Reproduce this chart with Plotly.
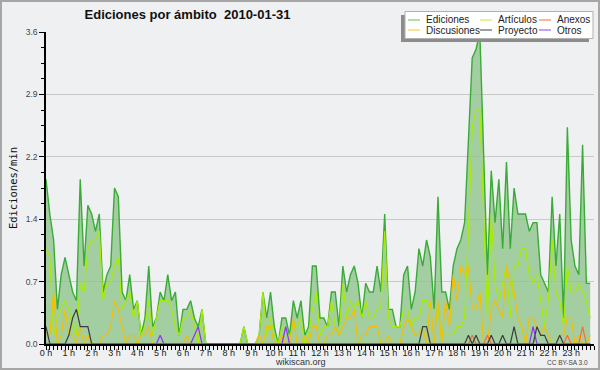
import plotly.graph_objects as go

# ---------------- data (10-minute bins, edits per minute) ----------------
BIN_MINUTES = 10
HOURS = list(range(24))
HOUR_LABELS = [f"{h} h" for h in HOURS]
TITLE = "Ediciones por ámbito\u00a0\u00a02010-01-31"

ediciones = [
    1.9, 1.5, 1.2, 0.4, 0.8, 1.0, 0.8, 0.6, 0.5, 1.9, 0.9, 1.6,
    1.5, 1.3, 1.5, 0.6, 0.8, 0.9, 1.8, 1.7, 0.6, 0.5, 0.8, 0.4,
    0.5, 0.1, 0.3, 0.9, 0.2, 0.3, 0.6, 0.5, 0.8, 0.5, 0.6, 0.1,
    0.4, 0.4, 0.5, 0.3, 0.2, 0.4, 0.0, 0.0, 0.0, 0.0, 0.0, 0.0,
    0.0, 0.0, 0.0, 0.0, 0.2, 0.0, 0.0, 0.0, 0.1, 0.6, 0.3, 0.6,
    0.2, 0.0, 0.3, 0.3, 0.1, 0.5, 0.3, 0.5, 0.1, 0.2, 0.9, 0.9,
    0.3, 0.3, 0.2, 0.6, 0.6, 0.2, 0.9, 0.6, 0.8, 0.9, 0.7, 0.3,
    0.7, 0.6, 0.6, 0.9, 0.6, 1.5, 0.4, 0.4, 0.2, 0.2, 0.8, 0.9,
    0.4, 0.6, 1.1, 0.9, 1.2, 1.0, 0.4, 1.7, 0.6, 0.6, 0.4, 0.9,
    1.1, 1.2, 1.4, 2.3, 3.3, 3.4, 3.6, 2.2, 0.8, 2.0, 1.4, 1.9,
    1.1, 2.1, 1.1, 1.8, 1.5, 1.5, 1.5, 1.3, 1.4, 1.4, 0.8, 0.7,
    0.6, 1.7, 0.9, 1.5, 0.3, 2.5, 1.2, 0.9, 0.8, 2.3, 0.7, 0.7,
]

articulos = [
    1.1, 1.0, 0.1, 0.3, 0.4, 0.5, 0.4, 0.2, 0.1, 0.7, 0.6, 1.1,
    1.2, 1.2, 1.3, 0.5, 0.7, 0.7, 0.9, 1.0, 0.4, 0.5, 0.6, 0.3,
    0.5, 0.1, 0.2, 0.5, 0.1, 0.3, 0.5, 0.5, 0.5, 0.4, 0.2, 0.1,
    0.3, 0.3, 0.4, 0.2, 0.0, 0.4, 0.0, 0.0, 0.0, 0.0, 0.0, 0.0,
    0.0, 0.0, 0.0, 0.0, 0.2, 0.0, 0.0, 0.0, 0.1, 0.6, 0.1, 0.3,
    0.1, 0.0, 0.2, 0.1, 0.1, 0.2, 0.2, 0.3, 0.0, 0.1, 0.4, 0.6,
    0.1, 0.2, 0.2, 0.5, 0.2, 0.1, 0.7, 0.3, 0.5, 0.4, 0.5, 0.3,
    0.5, 0.3, 0.3, 0.4, 0.4, 1.3, 0.3, 0.2, 0.2, 0.2, 0.4, 0.4,
    0.2, 0.3, 0.3, 0.5, 0.5, 0.4, 0.4, 0.4, 0.1, 0.1, 0.1, 0.1,
    0.2, 0.2, 0.3, 1.3, 2.5, 2.7, 2.7, 1.5, 0.3, 1.5, 0.7, 0.5,
    0.7, 0.9, 0.3, 0.9, 0.9, 1.1, 1.1, 0.8, 0.7, 0.8, 0.5, 0.2,
    0.5, 1.2, 0.6, 0.5, 0.2, 0.9, 0.6, 0.6, 0.7, 0.6, 0.5, 0.3,
]

discusiones = [
    0.1, 0.1, 0.6, 0.0, 0.1, 0.4, 0.1, 0.1, 0.0, 0.2, 0.0, 0.1,
    0.0, 0.0, 0.0, 0.1, 0.1, 0.2, 0.5, 0.4, 0.2, 0.0, 0.1, 0.1,
    0.0, 0.1, 0.1, 0.2, 0.0, 0.0, 0.0, 0.0, 0.0, 0.0, 0.0, 0.0,
    0.0, 0.1, 0.0, 0.0, 0.0, 0.0, 0.0, 0.0, 0.0, 0.0, 0.0, 0.0,
    0.0, 0.0, 0.0, 0.0, 0.0, 0.0, 0.0, 0.0, 0.1, 0.0, 0.2, 0.2,
    0.0, 0.0, 0.1, 0.0, 0.0, 0.3, 0.0, 0.0, 0.1, 0.0, 0.2, 0.2,
    0.0, 0.0, 0.1, 0.1, 0.2, 0.1, 0.2, 0.3, 0.3, 0.4, 0.0, 0.1,
    0.1, 0.2, 0.2, 0.2, 0.0, 0.0, 0.1, 0.0, 0.0, 0.0, 0.2, 0.3,
    0.2, 0.1, 0.1, 0.2, 0.0, 0.5, 0.0, 0.5, 0.0, 0.5, 0.2, 0.8,
    0.5, 0.9, 0.8, 0.9, 0.4, 0.4, 0.6, 0.0, 0.0, 0.4, 0.5, 0.4,
    0.3, 0.9, 0.7, 0.6, 0.3, 0.2, 0.0, 0.3, 0.3, 0.2, 0.1, 0.2,
    0.1, 0.0, 0.0, 0.1, 0.1, 0.3, 0.3, 0.0, 0.1, 0.0, 0.0, 0.1,
]

proyecto = [
    0.2, 0.0, 0.0, 0.0, 0.0, 0.0, 0.1, 0.3, 0.4, 0.2, 0.2, 0.2,
    0.0, 0.0, 0.0, 0.0, 0.0, 0.0, 0.0, 0.0, 0.0, 0.0, 0.0, 0.0,
    0.0, 0.0, 0.0, 0.0, 0.0, 0.0, 0.0, 0.0, 0.0, 0.0, 0.0, 0.0,
    0.0, 0.0, 0.0, 0.0, 0.0, 0.0, 0.0, 0.0, 0.0, 0.0, 0.0, 0.0,
    0.0, 0.0, 0.0, 0.0, 0.0, 0.0, 0.0, 0.0, 0.0, 0.0, 0.0, 0.0,
    0.0, 0.0, 0.0, 0.0, 0.0, 0.0, 0.0, 0.0, 0.0, 0.0, 0.0, 0.0,
    0.0, 0.0, 0.0, 0.0, 0.0, 0.0, 0.0, 0.0, 0.0, 0.0, 0.0, 0.0,
    0.0, 0.0, 0.0, 0.0, 0.0, 0.0, 0.0, 0.0, 0.0, 0.0, 0.0, 0.0,
    0.0, 0.0, 0.0, 0.2, 0.2, 0.0, 0.0, 0.0, 0.0, 0.0, 0.0, 0.0,
    0.0, 0.0, 0.0, 0.1, 0.0, 0.1, 0.0, 0.0, 0.0, 0.1, 0.0, 0.0,
    0.1, 0.0, 0.0, 0.2, 0.0, 0.0, 0.0, 0.0, 0.0, 0.2, 0.1, 0.1,
    0.0, 0.0, 0.0, 0.1, 0.0, 0.0, 0.0, 0.0, 0.0, 0.0, 0.0, 0.0,
]

anexos = [
    0.0, 0.0, 0.0, 0.0, 0.0, 0.0, 0.0, 0.0, 0.0, 0.0, 0.0, 0.0,
    0.0, 0.0, 0.0, 0.0, 0.0, 0.0, 0.0, 0.0, 0.0, 0.0, 0.0, 0.0,
    0.0, 0.0, 0.0, 0.0, 0.0, 0.0, 0.0, 0.0, 0.0, 0.0, 0.0, 0.0,
    0.0, 0.0, 0.0, 0.0, 0.0, 0.0, 0.0, 0.0, 0.0, 0.0, 0.0, 0.0,
    0.0, 0.0, 0.0, 0.0, 0.0, 0.0, 0.0, 0.0, 0.0, 0.0, 0.0, 0.0,
    0.0, 0.0, 0.0, 0.0, 0.0, 0.0, 0.0, 0.0, 0.0, 0.0, 0.0, 0.0,
    0.0, 0.0, 0.0, 0.0, 0.0, 0.0, 0.0, 0.0, 0.0, 0.0, 0.0, 0.0,
    0.0, 0.0, 0.0, 0.0, 0.0, 0.0, 0.0, 0.0, 0.0, 0.0, 0.0, 0.0,
    0.0, 0.0, 0.0, 0.0, 0.0, 0.0, 0.0, 0.0, 0.0, 0.0, 0.0, 0.0,
    0.0, 0.0, 0.0, 0.0, 0.1, 0.0, 0.0, 0.0, 0.1, 0.0, 0.0, 0.0,
    0.0, 0.0, 0.0, 0.0, 0.0, 0.0, 0.0, 0.0, 0.0, 0.0, 0.0, 0.0,
    0.0, 0.0, 0.0, 0.0, 0.0, 0.1, 0.0, 0.0, 0.0, 0.2, 0.0, 0.0,
]

otros = [
    0.0, 0.0, 0.0, 0.0, 0.0, 0.0, 0.0, 0.0, 0.0, 0.0, 0.0, 0.0,
    0.0, 0.0, 0.0, 0.0, 0.0, 0.0, 0.0, 0.0, 0.0, 0.0, 0.0, 0.0,
    0.0, 0.0, 0.0, 0.0, 0.0, 0.0, 0.1, 0.0, 0.0, 0.0, 0.0, 0.0,
    0.0, 0.0, 0.0, 0.1, 0.2, 0.0, 0.0, 0.0, 0.0, 0.0, 0.0, 0.0,
    0.0, 0.0, 0.0, 0.0, 0.0, 0.0, 0.0, 0.0, 0.0, 0.0, 0.0, 0.0,
    0.0, 0.0, 0.0, 0.2, 0.0, 0.0, 0.0, 0.0, 0.0, 0.0, 0.0, 0.0,
    0.0, 0.0, 0.0, 0.0, 0.0, 0.0, 0.0, 0.0, 0.0, 0.0, 0.0, 0.0,
    0.0, 0.0, 0.0, 0.0, 0.0, 0.0, 0.0, 0.0, 0.0, 0.0, 0.0, 0.0,
    0.0, 0.0, 0.0, 0.0, 0.0, 0.0, 0.0, 0.0, 0.0, 0.0, 0.0, 0.0,
    0.0, 0.0, 0.0, 0.0, 0.0, 0.0, 0.0, 0.0, 0.0, 0.0, 0.0, 0.0,
    0.0, 0.0, 0.0, 0.0, 0.0, 0.0, 0.0, 0.0, 0.2, 0.0, 0.0, 0.0,
    0.0, 0.0, 0.0, 0.0, 0.0, 0.0, 0.0, 0.0, 0.0, 0.0, 0.0, 0.0,
]

# legend layout (row-major, as in the reference box)
LEGEND_ROWS = [["Ediciones", "Artículos", "Anexos"],
               ["Discusiones", "Proyecto", "Otros"]]

# ---------------- styling ----------------
COLORS = {
    "Ediciones": "#3aab37",
    "Artículos": "#a8ec00",
    "Discusiones": "#f4bf00",
    "Proyecto": "#3c3c3c",
    "Anexos": "#ff6a2e",
    "Otros": "#8a35ee",
}
LEGEND_COLORS = {
    "Ediciones": "#7cc87a",
    "Artículos": "#c8f050",
    "Discusiones": "#f8d050",
    "Proyecto": "#606060",
    "Anexos": "#ff8050",
    "Otros": "#a060f0",
}
BG = "#eff0f1"
W, H = 600, 370
ML, MR, MT, MB = 46, 6, 32, 26

x = [i * BIN_MINUTES / 60 for i in range(len(ediciones))]

fig = go.Figure()
fig.add_trace(go.Scatter(
    x=x, y=ediciones, name="Ediciones", mode="lines",
    line=dict(color=COLORS["Ediciones"], width=1.4),
    fill="tozeroy", fillcolor="rgba(140,196,140,0.78)", showlegend=False))
for name, ys in [("Artículos", articulos), ("Discusiones", discusiones),
                 ("Anexos", anexos), ("Proyecto", proyecto), ("Otros", otros)]:
    fig.add_trace(go.Scatter(
        x=x, y=ys, name=name, mode="lines",
        line=dict(color=COLORS[name], width=1.2), showlegend=False))

pw, ph = W - ML - MR, H - MT - MB


def px_x(px):
    return (px - ML) / pw


def px_y(py):
    return (H - MB - py) / ph


shapes = []
annotations = []

# legend box with drop shadow
shapes.append(dict(type="rect", xref="paper", yref="paper", layer="above",
                   x0=px_x(401), x1=px_x(589), y0=px_y(42), y1=px_y(15),
                   fillcolor="#8c8c8c", line=dict(width=0)))
shapes.append(dict(type="rect", xref="paper", yref="paper", layer="above",
                   x0=px_x(405), x1=px_x(593), y0=px_y(38.5), y1=px_y(11.5),
                   fillcolor="white", line=dict(color="#b0b0b0", width=1)))
col_line_x = [408, 480, 539]
col_text_x = [424, 496, 555]
row_y = [20, 30]
for r, row in enumerate(LEGEND_ROWS):
    for c, name in enumerate(row):
        shapes.append(dict(type="line", xref="paper", yref="paper", layer="above",
                           x0=px_x(col_line_x[c]), x1=px_x(col_line_x[c] + 12),
                           y0=px_y(row_y[r]), y1=px_y(row_y[r]),
                           line=dict(color=LEGEND_COLORS[name], width=1.2)))
        annotations.append(dict(text=name, xref="paper", yref="paper",
                                x=px_x(col_text_x[c]), y=px_y(row_y[r]),
                                xanchor="left", yanchor="middle", showarrow=False,
                                font=dict(family="Liberation Sans, Arial, sans-serif",
                                          size=10, color="#222")))

# outer frame
shapes.append(dict(type="rect", xref="paper", yref="paper", layer="above",
                   x0=px_x(1), x1=px_x(599), y0=px_y(369), y1=px_y(1),
                   line=dict(color="#a6a6a6", width=2)))

annotations.append(dict(text="wikiscan.org", xref="paper", yref="paper",
                        x=px_x(300), y=px_y(362), xanchor="center", yanchor="middle",
                        showarrow=False,
                        font=dict(family="Liberation Sans, Arial, sans-serif", size=9, color="#333")))
annotations.append(dict(text="CC BY-SA 3.0", xref="paper", yref="paper",
                        x=px_x(590), y=px_y(362.5), xanchor="right", yanchor="middle",
                        showarrow=False,
                        font=dict(family="Liberation Sans, Arial, sans-serif", size=6.5, color="#444")))

fig.update_layout(
    width=W, height=H,
    margin=dict(l=ML, r=MR, t=MT, b=MB),
    paper_bgcolor=BG, plot_bgcolor=BG,
    title=dict(text=TITLE, x=187.5 / W, xref="container", xanchor="center",
               y=1 - 14 / H, yref="container", yanchor="middle",
               font=dict(family="Liberation Sans, Arial, sans-serif", size=13, color="#111",
                         weight="bold")),
    shapes=shapes, annotations=annotations,
    xaxis=dict(range=[0, 24], tickmode="array", tickvals=HOURS, ticktext=HOUR_LABELS,
               ticks="outside", ticklen=4, tickwidth=1, tickcolor="black",
               ticklabelstandoff=-5,
               showline=True, linecolor="black", linewidth=1.5,
               showgrid=False, zeroline=False,
               tickfont=dict(family="Liberation Sans, Arial, sans-serif", size=9, color="#222"),
               minor=dict(tickmode="linear", tick0=0, dtick=BIN_MINUTES / 60,
                          ticks="outside", ticklen=4, tickwidth=1, tickcolor="black",
                          showgrid=False)),
    yaxis=dict(range=[0, 3.6], tickmode="linear", tick0=0, dtick=0.72, tickformat=".1f",
               ticks="outside", ticklen=5, tickwidth=1, tickcolor="black",
               showline=True, linecolor="black", linewidth=1.5,
               showgrid=True, gridcolor="#c9c9c9", gridwidth=1, zeroline=False,
               tickfont=dict(family="Liberation Sans, Arial, sans-serif", size=8.5, color="#444"),
               title=dict(text="Ediciones/min", standoff=6,
                          font=dict(family="DejaVu Sans Mono, monospace", size=10.5, color="#111")),
               minor=dict(tickmode="linear", tick0=0, dtick=0.18,
                          ticks="outside", ticklen=3, tickwidth=1, tickcolor="black",
                          showgrid=False)),
)

fig.write_html("out.html", config={"displayModeBar": False},
               post_script="document.body.style.margin='0';document.body.style.overflow='hidden';")
